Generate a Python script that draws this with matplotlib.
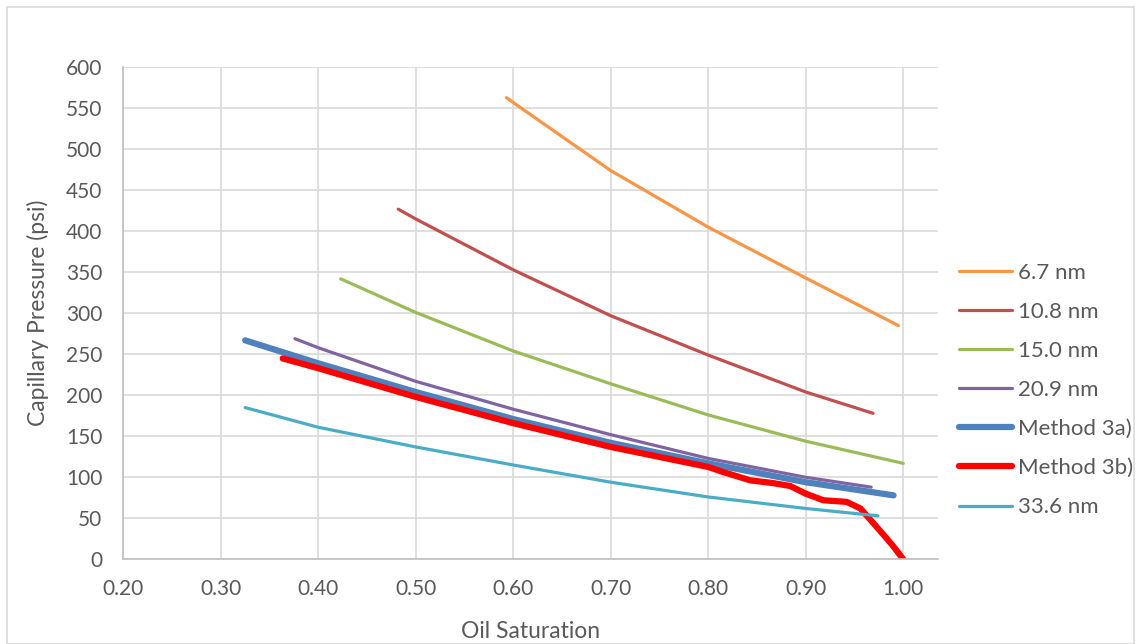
import matplotlib.pyplot as plt
from matplotlib.patches import Rectangle

# Valores (saturación de aceite, presión capilar en psi)
x_67 = [0.593, 0.60, 0.70, 0.80, 0.90, 0.995]
y_67 = [563, 557, 474, 405, 343, 285]

x_108 = [0.482, 0.50, 0.60, 0.70, 0.80, 0.90, 0.969]
y_108 = [427, 415, 353, 297, 249, 204, 178]

x_150 = [0.423, 0.50, 0.60, 0.70, 0.80, 0.90, 1.00]
y_150 = [342, 301, 254, 214, 176, 144, 117]

x_209 = [0.376, 0.40, 0.50, 0.60, 0.70, 0.80, 0.90, 0.967]
y_209 = [269, 258, 217, 183, 152, 123, 100, 88]

x_3a = [0.325, 0.40, 0.50, 0.60, 0.70, 0.80, 0.90, 0.99]
y_3a = [267, 239, 204, 171, 142, 117, 94, 78]

x_3b = [0.3635, 0.40, 0.50, 0.60, 0.70, 0.80, 0.815, 0.843, 0.866, 0.884,
        0.90, 0.918, 0.942, 0.956, 0.976, 0.989, 1.00]
y_3b = [245, 233, 198, 166, 137, 112.6, 106.5, 96.3, 93, 89.4,
        80, 72, 70, 62, 35, 17, 0]

x_336 = [0.325, 0.40, 0.50, 0.60, 0.70, 0.80, 0.90, 0.974]
y_336 = [185, 161, 137, 115, 94, 76, 62, 53]

series = [
    (x_67, y_67, "6.7 nm", "#F79646", 2.3),
    (x_108, y_108, "10.8 nm", "#C0504D", 2.3),
    (x_150, y_150, "15.0 nm", "#9BBB59", 2.3),
    (x_209, y_209, "20.9 nm", "#8064A2", 2.3),
    (x_3a, y_3a, "Method 3a)", "#4F81BD", 4.5),
    (x_3b, y_3b, "Method 3b)", "#FF0000", 4.5),
    (x_336, y_336, "33.6 nm", "#4BACC6", 2.3),
]

plt.rcParams["font.family"] = ["Lato", "DejaVu Sans"]
texto = "#595959"

fig = plt.figure(figsize=(11.41, 6.44), dpi=100)
ax = fig.add_axes([123.3 / 1141, 1 - 559.3 / 644, (938 - 123.3) / 1141, (559.3 - 67.3) / 644])

for xs, ys, nombre, color, lw in series:
    ax.plot(xs, ys, color=color, lw=lw, label=nombre,
            solid_capstyle="round", solid_joinstyle="round")

ax.set_xlim(0.20, 0.20 + (938 - 123.3) / 975)
ax.set_ylim(0, 600)
ax.set_xticks([0.20, 0.30, 0.40, 0.50, 0.60, 0.70, 0.80, 0.90, 1.00])
ax.set_xticklabels([f"{v:.2f}" for v in ax.get_xticks()])
ax.set_yticks(range(0, 601, 50))

ax.grid(True, color="#D9D9D9", lw=1.2)
ax.set_axisbelow(True)
for lado in ["top", "right"]:
    ax.spines[lado].set_visible(False)
for lado in ["left", "bottom"]:
    ax.spines[lado].set_color("#BFBFBF")
    ax.spines[lado].set_linewidth(1.2)
ax.tick_params(length=0, labelsize=15, colors=texto)
ax.tick_params(axis="x", pad=14)
ax.tick_params(axis="y", pad=15)

ax.set_xlabel("Oil Saturation", fontsize=16.5, color=texto, labelpad=16)
ax.set_ylabel("Capillary Pressure (psi)", fontsize=16.5, color=texto, labelpad=12)

fig.legend(loc="center left", bbox_to_anchor=(948 / 1141, 1 - 390 / 644),
           frameon=False, fontsize=16, labelcolor=texto, borderpad=0,
           labelspacing=0.86, handlelength=2.4, handletextpad=0.25)

# Borde del área del gráfico
fig.patches.append(Rectangle((7 / 1141, 0), 1 - 14 / 1141, 1 - 7 / 644,
                             transform=fig.transFigure, fill=False,
                             edgecolor="#D9D9D9", lw=1.2))

fig.savefig("out.png", dpi=100)
